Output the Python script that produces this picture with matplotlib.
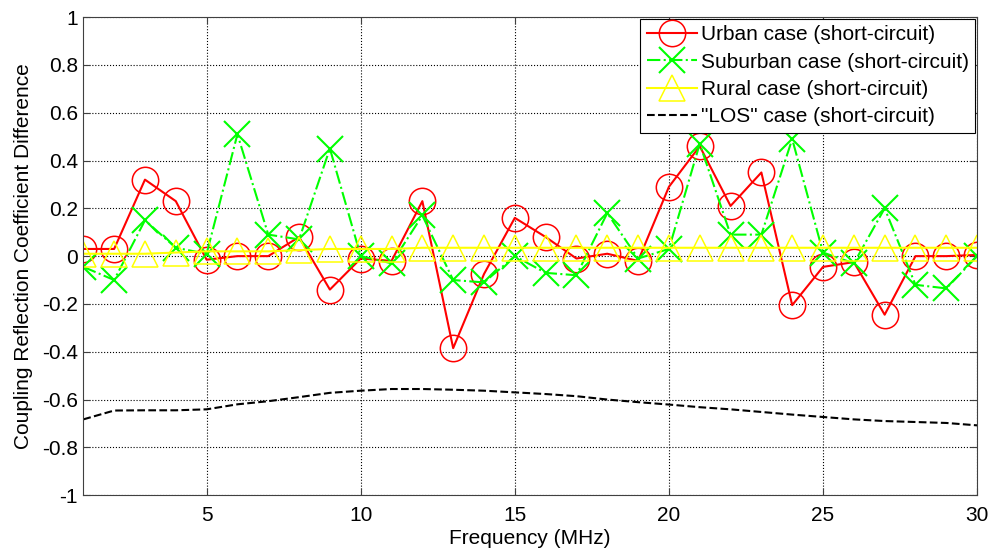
import matplotlib
matplotlib.use("Agg")
import matplotlib.pyplot as plt
import numpy as np

plt.rcParams['font.family'] = ['Liberation Sans', 'DejaVu Sans']

# Frequency axis (MHz)
freq = np.arange(1, 31)

urban = [0.03, 0.03, 0.32, 0.23, -0.015, 0.0, 0.0, 0.08, -0.14, -0.01,
         -0.02, 0.23, -0.385, -0.075, 0.16, 0.08, -0.01, 0.01, -0.02, 0.29,
         0.46, 0.21, 0.35, -0.205, -0.045, -0.025, -0.245, 0.0, 0.0, 0.005]
suburban = [-0.045, -0.10, 0.15, 0.035, 0.01, 0.51, 0.09, 0.07, 0.45, 0.0,
            -0.03, 0.17, -0.10, -0.11, 0.0, -0.07, -0.08, 0.18, -0.01, 0.03,
            0.47, 0.09, 0.09, 0.49, 0.015, -0.03, 0.20, -0.12, -0.135, 0.0]
rural = [0.01, 0.01, 0.01, 0.015, 0.02, 0.02, 0.02, 0.025, 0.03, 0.03,
         0.03, 0.035, 0.035, 0.035, 0.035, 0.035, 0.035, 0.035, 0.035, 0.035,
         0.035, 0.035, 0.035, 0.035, 0.035, 0.035, 0.035, 0.035, 0.035, 0.035]
los = [-0.683, -0.646, -0.645, -0.645, -0.641, -0.62, -0.607, -0.59, -0.572, -0.563,
       -0.556, -0.556, -0.559, -0.563, -0.57, -0.577, -0.586, -0.60, -0.611, -0.621,
       -0.632, -0.641, -0.652, -0.663, -0.673, -0.683, -0.69, -0.694, -0.698, -0.708]

labels = ['Urban case (short-circuit)', 'Suburban case (short-circuit)',
          'Rural case (short-circuit)', '"LOS" case (short-circuit)']

yticks = [-1, -0.8, -0.6, -0.4, -0.2, 0, 0.2, 0.4, 0.6, 0.8, 1]
ytick_labels = ['-1', '-0.8', '-0.6', '-0.4', '-0.2', '0', '0.2', '0.4', '0.6', '0.8', '1']

fig = plt.figure(figsize=(9.92, 5.52), dpi=100)
ax = fig.add_axes([0.084, 0.103, 0.901, 0.866])

ax.plot(freq, urban, color='red', linestyle='-', linewidth=1.5, marker='o',
        markersize=19, markerfacecolor='none', markeredgewidth=1.1, label=labels[0])
ax.plot(freq, suburban, color=(0, 1, 0), linestyle='-.', linewidth=1.5, marker='x',
        markersize=19, markeredgewidth=1.5, label=labels[1])
ax.plot(freq, rural, color=(1, 1, 0), linestyle='-', linewidth=1.5, marker='^',
        markersize=19, markerfacecolor='none', markeredgewidth=1.1, label=labels[2])
ax.plot(freq, los, color='black', linestyle='--', linewidth=1.5, label=labels[3])

ax.set_xlim(1, 30)
ax.set_ylim(-1, 1)
ax.set_xticks([5, 10, 15, 20, 25, 30])
ax.set_yticks(yticks)
ax.set_yticklabels(ytick_labels)

ax.grid(True, color='black', linestyle=':', linewidth=0.8)
ax.tick_params(direction='in', labelsize=15, colors='#404040', labelcolor='black',
               top=True, right=True, length=5, pad=4)
ax.tick_params(axis='x', pad=8)
for s in ax.spines.values():
    s.set_color('#404040')

ax.set_xlabel('Frequency (MHz)', fontsize=15, labelpad=3)
ax.set_ylabel('Coupling Reflection Coefficient Difference', fontsize=15, labelpad=6)

leg = ax.legend(loc='upper right', fontsize=15, fancybox=False, framealpha=1,
                edgecolor='black', borderaxespad=0.1, handlelength=2.4,
                handletextpad=0.2, labelspacing=0.4, borderpad=0.3)
leg.get_frame().set_linewidth(0.8)

fig.savefig('out.png', dpi=100)
